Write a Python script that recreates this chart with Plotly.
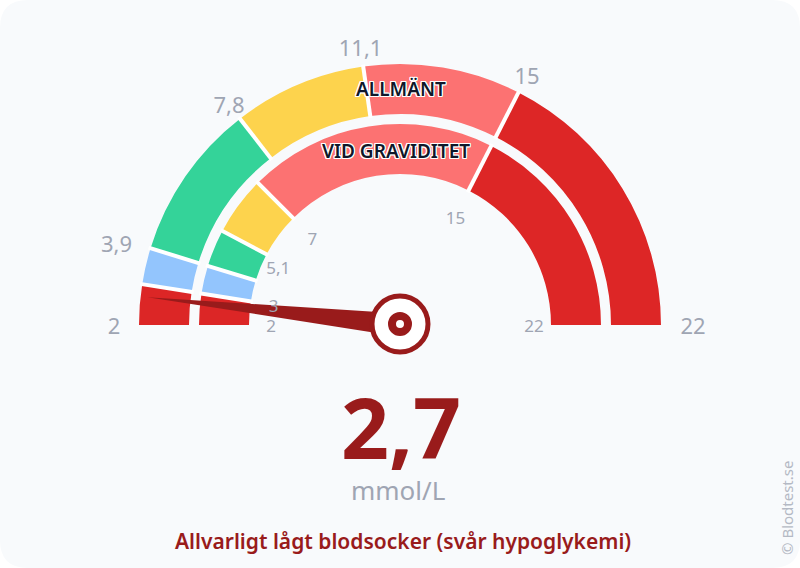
import math
import plotly.graph_objects as go

# scale limits
scale_min = 2
scale_max = 22
current_value = 2.7

# band edges, mmol/L
general_edges = [2, 3, 3.9, 7.8, 11.1, 15, 22]
pregnancy_edges = [2, 3, 3.9, 5.1, 7, 15, 22]
general_labels = ["2", "", "3,9", "7,8", "11,1", "15", "22"]
pregnancy_labels = ["2", "3", "", "5,1", "7", "15", "22"]
band_colors = ["#dc2626", "#93c5fd", "#34d399", "#fdd34d", "#fc7272", "#dd2626"]

FONT = "Noto Sans"
GREY = "#9fa5b3"
DARK_RED = "#991b1b"
W, H = 800, 568
CX, CY = 400, 325
R = 300


def angle(v):
    return 180 - (v - scale_min) / (scale_max - scale_min) * 180


def px(x):
    return x / W


def py(y):
    return 1 - y / H


fig = go.Figure()


def add_band(edges, inner, outer):
    thetas = []
    widths = []
    for a, b in zip(edges[:-1], edges[1:]):
        thetas.append((angle(a) + angle(b)) / 2)
        widths.append(angle(a) - angle(b))
    fig.add_trace(go.Barpolar(
        theta=thetas, width=widths, r=[outer - inner] * len(thetas), base=[inner] * len(thetas),
        marker=dict(color=band_colors, line=dict(width=0)),
    ))
    # white separators between the segments
    for e in edges[1:-1]:
        fig.add_trace(go.Scatterpolar(
            theta=[angle(e), angle(e)], r=[inner - 2, outer + 2], mode="lines",
            line=dict(color="white", width=4),
        ))


add_band(general_edges, 211, 261)
add_band(pregnancy_edges, 151, 201)

# needle
t = angle(current_value)
fig.add_trace(go.Scatterpolar(
    theta=[t, t + 90, t - 90, t], r=[254, 11.5, 11.5, 254], mode="lines", fill="toself",
    fillcolor=DARK_RED, line=dict(color=DARK_RED, width=0),
))
fig.add_trace(go.Scatterpolar(
    theta=[90], r=[1], mode="markers",
    marker=dict(size=56, color="white", line=dict(color=DARK_RED, width=5)),
))
fig.add_trace(go.Scatterpolar(
    theta=[90], r=[1], mode="markers",
    marker=dict(size=16, color="white", line=dict(color=DARK_RED, width=8)),
))


# labels sit a few px lower than the polar text anchor, so move them down
def label_points(edges, radii, nudges, drop=3):
    rs, ths = [], []
    for v, r, n in zip(edges, radii, nudges):
        a = math.radians(angle(v) + n)
        x, y = r * math.cos(a), r * math.sin(a) - drop
        rs.append(math.hypot(x, y))
        ths.append(math.degrees(math.atan2(y, x)))
    return rs, ths


outer_r = [286, 286, 295, 279, 280, 280, 293]
outer_nudge = [0, 0, 1, 0, 0, 0, 0]
inner_r = [129, 128, 128, 135, 124, 122, 134]
inner_nudge = [0, 0, 0, 2.2, 0, 0, 0]

rs, ths = label_points(general_edges, outer_r, outer_nudge)
fig.add_trace(go.Scatterpolar(
    theta=ths, r=rs, mode="text", text=general_labels,
    textposition="middle center", textfont=dict(family=FONT, size=22, color=GREY),
))
rs, ths = label_points(pregnancy_edges, inner_r, inner_nudge)
fig.add_trace(go.Scatterpolar(
    theta=ths, r=rs, mode="text", text=pregnancy_labels,
    textposition="middle center", textfont=dict(family=FONT, size=17, color=GREY),
))

halo = ("white -1px -1px 0, white 1px -1px 0, white -1px 1px 0, white 1px 1px 0, "
        "white 0 -1px 0, white 0 1px 0, white -1px 0 0, white 1px 0 0")


def note(text, x, y, size, color, weight=400, angle_=0, shadow=None):
    font = dict(family=FONT, size=size, color=color, weight=weight)
    if shadow:
        font["shadow"] = shadow
    fig.add_annotation(
        text=text, x=px(x), y=py(y), xref="paper", yref="paper", showarrow=False,
        xanchor="center", yanchor="middle", textangle=angle_, font=font,
    )


note("ALLMÄNT", 401, 89, 19, "#0f172a", 600, shadow=halo)
note("VID GRAVIDITET", 396, 151, 19, "#0f172a", 600, shadow=halo)
note("2,7", 401, 426, 84, DARK_RED, 700)
note("mmol/L", 398, 490, 26, GREY)
note("Allvarligt lågt blodsocker (svår hypoglykemi)", 402.5, 541, 21, DARK_RED, 600)
note("© Blodtest.se", 787, 508, 15, "#b4b9c4", angle_=-90)

# rounded card behind everything
c = 28
card = (f"M {px(c)} 1 L {px(W - c)} 1 Q 1 1 1 {py(c)} L 1 {py(H - c)} Q 1 0 {px(W - c)} 0 "
        f"L {px(c)} 0 Q 0 0 0 {py(H - c)} L 0 {py(c)} Q 0 1 {px(c)} 1 Z")
fig.add_shape(type="path", path=card, xref="paper", yref="paper", layer="below",
              fillcolor="#f8fafc", line=dict(width=0))

bottom = CY + R * 0.34202
fig.update_layout(
    width=W, height=H, autosize=False,
    margin=dict(l=0, r=0, t=0, b=0),
    paper_bgcolor="white", showlegend=False,
    polar=dict(
        domain=dict(x=[px(CX - R), px(CX + R)], y=[py(bottom), py(CY - R)]),
        sector=[-20, 200], bgcolor="rgba(0,0,0,0)",
        radialaxis=dict(visible=False, range=[0, R]),
        angularaxis=dict(visible=False, thetaunit="degrees"),
    ),
)
# the browser's default body margin would shift the whole chart
fig.write_html("out.html", config={"displayModeBar": False},
               post_script="document.body.style.margin='0';")
